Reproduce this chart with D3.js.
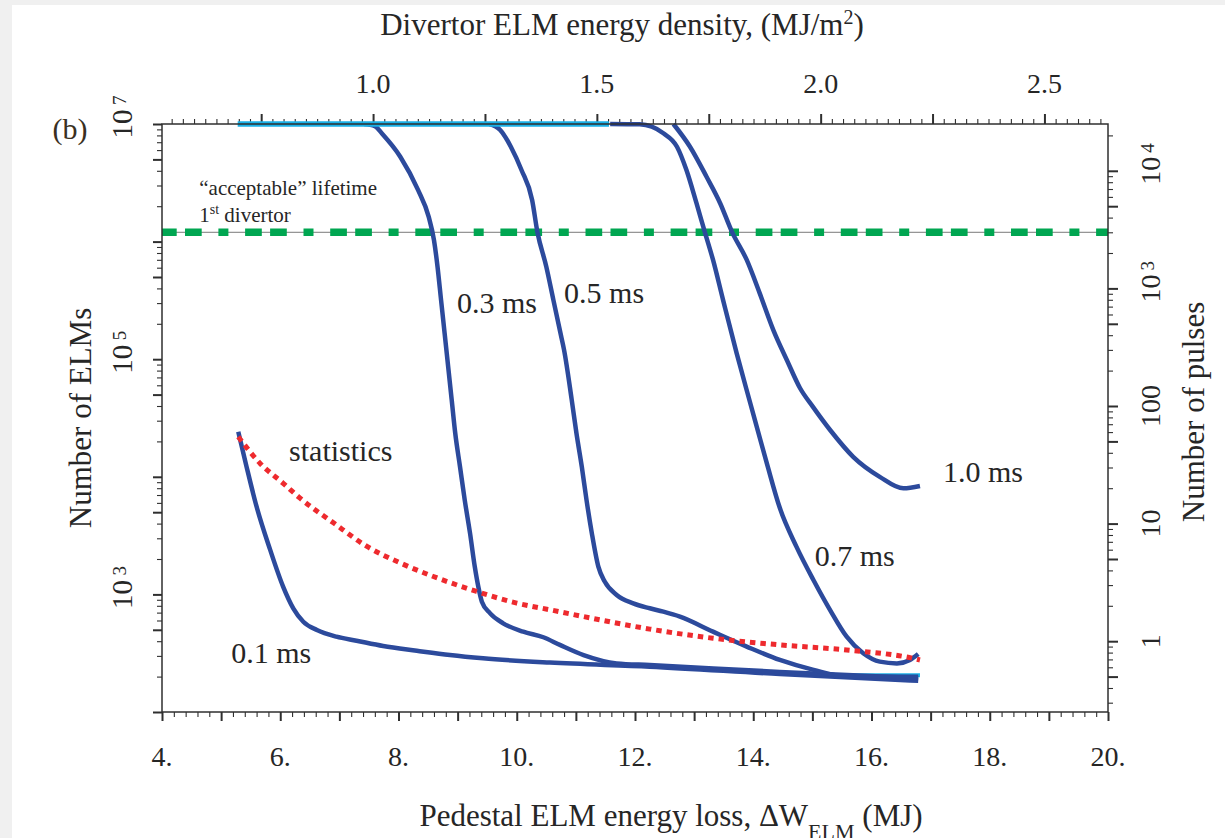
<!DOCTYPE html>
<html>
<head>
<meta charset="utf-8">
<script src="https://cdn.jsdelivr.net/npm/d3@7/dist/d3.min.js"></script>
<style>
  html, body { margin: 0; padding: 0; background: #fff; }
  svg { display: block; }
  text { font-family: "Liberation Serif", "Times New Roman", serif; fill: #262626; }
</style>
</head>
<body>
<svg id="chart" width="1225" height="838"></svg>
<script>
// ---------- data ----------
const energyLossRange = [4, 20];        // pedestal ELM energy loss, MJ
const elmCountRange = [1e2, 1e7];       // number of ELMs
const elmsPerPulse = 400;               // right axis: pulses = ELMs / 400
const divertorArea = 7.57;              // m^2, energy loss -> divertor energy density

const bottomTickValues = [4, 6, 8, 10, 12, 14, 16, 18, 20];
const topTickValues = [1.0, 1.5, 2.0, 2.5];
const leftExponents = [7, 5, 3];
const rightTickValues = [1e4, 1e3, 100, 10, 1];

const lifetimeELMs = 1.2e6;             // "acceptable" lifetime of the 1st divertor (3000 pulses)

// [energy loss (MJ), number of ELMs]
const tau01 = [[5.29,24200],[5.43,12200],[5.60,5570],[5.83,2390],[6.05,1160],[6.22,762],[6.39,586],
  [6.62,498],[6.95,437],[7.29,404],[7.74,364],[8.31,332],[8.87,305],[9.43,286],[10.56,263],
  [12.25,243],[14.45,210],[16.79,184]];
const tau03 = [[7.42,1e7],[7.60,9.6e6],[7.72,8.3e6],[8.03,5.27e6],[8.33,2.75e6],[8.51,1.63e6],
  [8.60,1.03e6],[8.66,6.12e5],[8.72,3.18e5],[8.78,1.66e5],[8.90,4.5e4],[8.96,2.34e4],[9.04,1.22e4],
  [9.12,6350],[9.21,3310],[9.29,1720],[9.35,1160],[9.41,867],[9.55,690],[9.77,568],[10.11,482],
  [10.45,432],[10.73,372],[11.13,305],[11.69,259],[12.25,251],[14.45,219],[16.79,194]];
const tau05 = [[9.54,1e7],[9.72,8.9e6],[9.90,6.41e6],[10.08,4.06e6],[10.26,2.26e6],[10.35,1.2e6],
  [10.50,6.12e5],[10.62,3.18e5],[10.74,1.66e5],[10.80,1.2e5],[10.93,4.5e4],[11.01,2.34e4],
  [11.10,1.22e4],[11.18,6350],[11.27,3310],[11.38,1720],[11.49,1280],[11.69,989],[11.97,839],
  [12.25,762],[12.48,713],[12.76,647],[13.32,482],[13.89,360],[14.45,277],[15.02,228],[15.58,200],
  [16.79,199]];
const tau07 = [[11.58,1e7],[12.08,9.93e6],[12.48,8.34e6],[12.71,6.41e6],[12.87,4.06e6],[13.04,2.12e6],
  [13.18,1.21e6],[13.32,6.98e5],[13.49,3.18e5],[13.72,1.12e5],[13.95,4.22e4],[14.23,1.30e4],
  [14.45,5420],[14.73,2550],[15.02,1320],[15.30,736],[15.58,437],[15.86,316],[16.14,268],
  [16.43,259],[16.65,277],[16.79,311]];
const tau10 = [[12.65,1e7],[12.93,6.41e6],[13.21,3.56e6],[13.44,2.12e6],[13.64,1.21e6],[13.89,6.98e5],
  [14.11,3.63e5],[14.34,1.77e5],[14.57,9.8e4],[14.79,5.69e4],[15.01,3.93e4],[15.30,2.5e4],
  [15.69,1.48e4],[16.14,1.0e4],[16.54,7980],[16.82,8360]];
const statistics = [[5.29,21900],[5.66,13000],[6.05,8810],[6.33,6610],[6.90,4060],[7.46,2570],
  [8.03,1850],[8.59,1420],[9.32,1060],[10.00,843],[10.56,740],[11.12,649],[12.25,507],[13.32,424],
  [14.45,372],[15.58,337],[16.70,286],[16.82,277]];
const ceilingSegment = [[5.28,1e7],[11.56,1e7]];
const floorSegment = [[15.58,205],[16.82,205]];

// curve labels: text, energy loss at left edge, ELM count at baseline
const curveLabels = [
  {text: "0.1 ms", energy: 5.17, elms: 261},
  {text: "statistics", energy: 6.15, elms: 13600},
  {text: "0.3 ms", energy: 8.99, elms: 2.47e5},
  {text: "0.5 ms", energy: 10.80, elms: 3.0e5},
  {text: "0.7 ms", energy: 15.04, elms: 1740},
  {text: "1.0 ms", energy: 17.21, elms: 9040}
];

// ---------- layout ----------
const W = 1225, H = 838;
const plot = {left: 162, right: 1108, top: 124, bottom: 712};
const ink = "#2f2f2f";
const blue = "#2c4a9c", cyan = "#1bb1e7", green = "#00a651", red = "#ee2a2e";

const svg = d3.select("#chart");

svg.append("rect").attr("x", 0).attr("y", 0).attr("width", W).attr("height", 5).attr("fill", "#f0f0f0");
svg.append("rect").attr("x", 0).attr("y", 0).attr("width", 12).attr("height", H).attr("fill", "#f0f0f0");

const x = d3.scaleLinear().domain(energyLossRange).range([plot.left, plot.right]);
const y = d3.scaleLog().domain(elmCountRange).range([plot.bottom, plot.top]);
const yPulse = d3.scaleLog().domain(elmCountRange.map(v => v / elmsPerPulse)).range([plot.bottom, plot.top]);
const xDensity = d3.scaleLinear().domain(energyLossRange.map(v => v / divertorArea)).range([plot.left, plot.right]);

// ---------- ticks ----------
function drawTicks(axis, transform, width) {
  const g = svg.append("g").attr("transform", transform).attr("color", ink).call(axis);
  g.select(".domain").remove();
  g.selectAll(".tick line").attr("stroke-width", width);
  g.selectAll(".tick text").remove();
  return g;
}

const bottomMinor = d3.range(20, 101).map(k => k / 5).filter(v => !Number.isInteger(v));
const bottomMajor = d3.range(4, 21);
drawTicks(d3.axisBottom(x).tickValues(bottomMinor).tickSize(5), `translate(0,${plot.bottom})`, 1.1);
drawTicks(d3.axisBottom(x).tickValues(bottomMajor).tickSize(9), `translate(0,${plot.bottom})`, 2);

const dLo = xDensity.domain()[0], dHi = xDensity.domain()[1];
const topAll = d3.range(Math.ceil(dLo * 40), Math.floor(dHi * 40) + 1);
const topMinor = topAll.filter(k => k % 10 !== 0).map(k => k / 40);
const topMajor = topAll.filter(k => k % 10 === 0).map(k => k / 40);
drawTicks(d3.axisTop(xDensity).tickValues(topMinor).tickSize(5), `translate(0,${plot.top})`, 1.1);
drawTicks(d3.axisTop(xDensity).tickValues(topMajor).tickSize(10), `translate(0,${plot.top})`, 2);

function logTicks(lo, hi) {
  const out = [];
  for (let e = Math.floor(Math.log10(lo)); e <= Math.ceil(Math.log10(hi)); e++) {
    for (let m = 1; m <= 9; m++) {
      const v = m * Math.pow(10, e);
      if (v >= lo * 0.999 && v <= hi * 1.001) out.push({v, major: m === 1 || m === 5});
    }
  }
  return out;
}
const leftTicks = logTicks(...elmCountRange);
drawTicks(d3.axisLeft(y).tickValues(leftTicks.filter(t => !t.major).map(t => t.v)).tickSize(5), `translate(${plot.left},0)`, 1.1);
drawTicks(d3.axisLeft(y).tickValues(leftTicks.filter(t => t.major).map(t => t.v)).tickSize(9), `translate(${plot.left},0)`, 2);
const rightTicks = logTicks(...yPulse.domain());
drawTicks(d3.axisRight(yPulse).tickValues(rightTicks.filter(t => !t.major).map(t => t.v)).tickSize(5), `translate(${plot.right},0)`, 1.1);
drawTicks(d3.axisRight(yPulse).tickValues(rightTicks.filter(t => t.major).map(t => t.v)).tickSize(10), `translate(${plot.right},0)`, 2);

// ---------- tick labels ----------
svg.append("g").selectAll("text").data(bottomTickValues).join("text")
  .attr("x", d => x(d)).attr("y", 766).attr("text-anchor", "middle")
  .attr("font-size", 28).text(d => d + ".");

svg.append("g").selectAll("text").data(topTickValues).join("text")
  .attr("x", d => xDensity(d)).attr("y", 93).attr("text-anchor", "middle")
  .attr("font-size", 28).text(d => d3.format(".1f")(d));

// left: 10^n, rotated
const leftLab = svg.append("g");
leftExponents.forEach(n => {
  const ty = y(Math.pow(10, n));
  leftLab.append("text").attr("transform", `translate(132,${ty}) rotate(-90)`)
    .attr("text-anchor", "middle").attr("font-size", 29).text("10");
  leftLab.append("text").attr("transform", `translate(126,${ty - 19}) rotate(-90)`)
    .attr("text-anchor", "start").attr("font-size", 19).text(n);
});

// right: pulses, rotated
const rightLab = svg.append("g");
rightTickValues.forEach(v => {
  const ty = yPulse(v);
  if (v >= 1000) {
    const n = Math.round(Math.log10(v));
    rightLab.append("text").attr("transform", `translate(1160,${ty}) rotate(-90)`)
      .attr("text-anchor", "middle").attr("font-size", 28).text("10");
    rightLab.append("text").attr("transform", `translate(1154,${ty - 18}) rotate(-90)`)
      .attr("text-anchor", "start").attr("font-size", 19).text(n);
  } else {
    rightLab.append("text").attr("transform", `translate(1160,${ty}) rotate(-90)`)
      .attr("text-anchor", "middle").attr("font-size", 28).text(v);
  }
});

// ---------- axis titles ----------
const topTitle = svg.append("text").attr("x", 622).attr("y", 35).attr("text-anchor", "middle").attr("font-size", 31);
topTitle.append("tspan").text("Divertor ELM energy density, (MJ/m");
topTitle.append("tspan").attr("font-size", 20).attr("dy", -11).text("2");
topTitle.append("tspan").attr("dy", 11).text(")");

const bottomTitle = svg.append("text").attr("x", 671).attr("y", 826).attr("text-anchor", "middle").attr("font-size", 31);
bottomTitle.append("tspan").text("Pedestal ELM energy loss, \u0394W");
bottomTitle.append("tspan").attr("font-size", 22).attr("dy", 13).text("ELM");
bottomTitle.append("tspan").attr("dy", -13).text(" (MJ)");

svg.append("text").attr("transform", "translate(91,418) rotate(-90)")
  .attr("text-anchor", "middle").attr("font-size", 31).text("Number of ELMs");
svg.append("text").attr("transform", "translate(1204,412) rotate(-90)")
  .attr("text-anchor", "middle").attr("font-size", 31).text("Number of pulses");

svg.append("text").attr("x", 70).attr("y", 139).attr("text-anchor", "middle")
  .attr("font-size", 30).style("fill", "#3a3022").text("(b)");

// ---------- marks ----------
svg.append("clipPath").attr("id", "plotClip").append("rect")
  .attr("x", plot.left).attr("y", plot.top - 6).attr("width", plot.right - plot.left).attr("height", plot.bottom - plot.top + 12);

const marks = svg.append("g").attr("clip-path", "url(#plotClip)");
const line = d3.line().x(d => x(d[0])).y(d => y(d[1])).curve(d3.curveMonotoneX);

// lifetime threshold: thin rule under a green dash-dot line
marks.append("line").attr("x1", plot.left).attr("x2", plot.right)
  .attr("y1", y(lifetimeELMs)).attr("y2", y(lifetimeELMs))
  .attr("stroke", "#7a7a7a").attr("stroke-width", 1);
marks.append("line").attr("x1", plot.left - 2).attr("x2", plot.right)
  .attr("y1", y(lifetimeELMs)).attr("y2", y(lifetimeELMs))
  .attr("stroke", green).attr("stroke-width", 7.5)
  .attr("stroke-dasharray", "16.7,8.3,16.7,16.7,10,16.7");

marks.append("path").datum(floorSegment).attr("d", line)
  .attr("fill", "none").attr("stroke", cyan).attr("stroke-width", 4);

[tau01, tau03, tau05, tau07, tau10].forEach(series => {
  marks.append("path").datum(series).attr("d", line)
    .attr("fill", "none").attr("stroke", blue).attr("stroke-width", 4.5)
    .attr("stroke-linejoin", "round").attr("stroke-linecap", "butt");
});

marks.append("path").datum(ceilingSegment).attr("d", line)
  .attr("fill", "none").attr("stroke", cyan).attr("stroke-width", 5.5);

marks.append("path").datum(statistics).attr("d", line)
  .attr("fill", "none").attr("stroke", red).attr("stroke-width", 5)
  .attr("stroke-dasharray", "5.5,5");

// frame
svg.append("rect").attr("x", plot.left).attr("y", plot.top)
  .attr("width", plot.right - plot.left).attr("height", plot.bottom - plot.top)
  .attr("fill", "none").attr("stroke", ink).attr("stroke-width", 1.5);

// ---------- annotations ----------
svg.append("g").selectAll("text").data(curveLabels).join("text")
  .attr("x", d => x(d.energy)).attr("y", d => y(d.elms))
  .attr("font-size", 30).text(d => d.text);

const acc1 = svg.append("text").attr("x", x(4.63)).attr("y", y(2.49e6)).attr("font-size", 21)
  .text("\u201Cacceptable\u201D lifetime");
const acc2 = svg.append("text").attr("x", x(4.63)).attr("y", y(1.47e6)).attr("font-size", 21);
acc2.append("tspan").text("1");
acc2.append("tspan").attr("font-size", 14).attr("dy", -8).text("st");
acc2.append("tspan").attr("dy", 8).text(" divertor");
</script>
</body>
</html>
